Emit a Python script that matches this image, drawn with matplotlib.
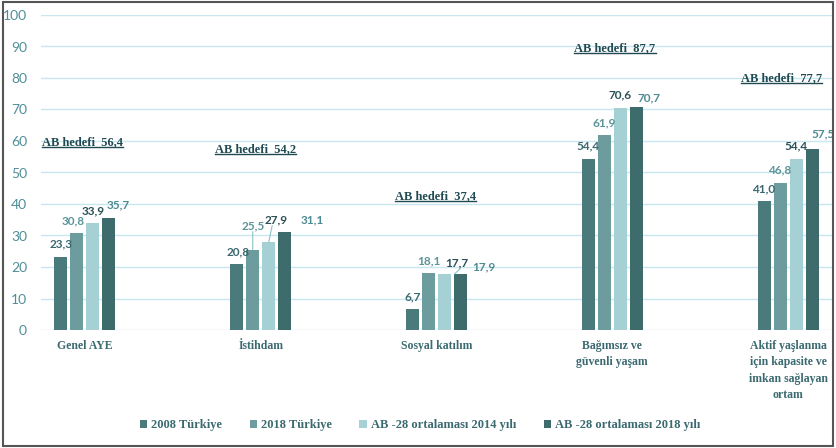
import matplotlib
matplotlib.use("Agg")
import matplotlib.pyplot as plt
import numpy as np
from matplotlib.lines import Line2D
from matplotlib.patches import Rectangle

categories = ["Genel AYE", "İstihdam", "Sosyal katılım",
              "Bağımsız ve\ngüvenli yaşam",
              "Aktif yaşlanma\niçin kapasite ve\nimkan sağlayan\nortam"]
series_names = ["2008 Türkiye", "2018 Türkiye", "AB -28 ortalaması 2014 yılı", "AB -28 ortalaması 2018 yılı"]
tr_2008 = [23.3, 20.8, 6.7, 54.4, 41.0]
tr_2018 = [30.8, 25.5, 18.1, 61.9, 46.8]
ab_2014 = [33.9, 27.9, 17.7, 70.6, 54.4]
ab_2018 = [35.7, 31.1, 17.9, 70.7, 57.5]
ab_target = [56.4, 54.2, 37.4, 87.7, 77.7]
yticks = [0, 10, 20, 30, 40, 50, 60, 70, 80, 90, 100]

series = [tr_2008, tr_2018, ab_2014, ab_2018]
bar_colors = ["#4b7a7c", "#6c9c9e", "#a5d0d4", "#3e6b6c"]
label_colors = ["#3b6870", "#5b9599", "#2b5056", "#4d8a92"]

W, H = 836, 448
fig = plt.figure(figsize=(W / 100, H / 100), dpi=100)
ax = fig.add_axes([41 / W, 1 - 330 / H, (832 - 41) / W, (330 - 15) / H])

x = np.arange(len(categories))
step = 16 / 175.75
bw = 13 / 175.75
offsets = (np.arange(4) - 1.5) * step

for i, (vals, c) in enumerate(zip(series, bar_colors)):
    ax.bar(x + offsets[i], vals, width=bw, color=c, label=series_names[i], zorder=3)

ax.set_xlim(-0.25, 4.25)
ax.set_ylim(0, 100)
ax.set_yticks(yticks)
ax.set_yticklabels([str(t) for t in yticks], fontsize=10, color="#4f8e99", family="Lato")
ax.tick_params(axis="y", length=0, pad=10)
ax.tick_params(axis="x", length=0, pad=7)
ax.set_xticks(x)
ax.set_xticklabels(categories, fontsize=8.5, family="Liberation Serif", weight="bold",
                   color="#3a6a70", va="top", linespacing=1.5)
ax.grid(axis="y", color="#c8e8f0", linewidth=1.0, zorder=0)
for s in ax.spines.values():
    s.set_visible(False)

# value label offsets in points: default per series, with exceptions (category, series)
default_off = [(0, 5), (0, 5), (0, 5), (8, 5)]
special = {(0, 1): (-3, 5), (0, 3): (7, 5.5),
           (1, 0): (1, 5), (1, 1): (0, 13), (1, 2): (5, 12), (1, 3): (20, 5),
           (2, 2): (9, 4), (2, 3): (17, 1),
           (3, 3): (9, 2.5), (4, 3): (8, 7)}
leaders = {(1, 1), (1, 2), (2, 2)}
for i, vals in enumerate(series):
    for j, v in enumerate(vals):
        dx, dy = special.get((j, i), default_off[i])
        xb = x[j] + offsets[i]
        label = f"{v:.1f}".replace(".", ",")
        ax.annotate(label, (xb, v), xytext=(dx, dy), textcoords="offset points",
                    ha="center", va="bottom", fontsize=8.5, family="Lato",
                    weight="bold", color=label_colors[i], zorder=5)
        if (j, i) in leaders:
            xt = xb + (offsets[3] - offsets[2]) * 0.6 if (j, i) == (2, 2) else xb
            ax.annotate("", (xt, v), xytext=(dx * 0.5, dy),
                        textcoords="offset points",
                        arrowprops=dict(arrowstyle="-", color="#8ac3c8", lw=0.8,
                                        shrinkA=0, shrinkB=0))

# AB hedefi annotations (underlined)
tgt_off = [(-2, 3), (-4, 3), (-1, 7), (2, 0), (-5, 1)]
tgt_texts = []
for j, t in enumerate(ab_target):
    txt = ax.annotate(f"AB hedefi  {t:.1f}".replace(".", ","), (x[j], t),
                      xytext=tgt_off[j], textcoords="offset points", ha="center", va="bottom",
                      fontsize=9, family="Liberation Serif", weight="bold",
                      color="#1f4a52", zorder=6)
    tgt_texts.append(txt)

leg = fig.legend(loc="center", bbox_to_anchor=(420 / W, 1 - 425 / H), ncol=4,
                 frameon=False, handlelength=0.6, handleheight=0.6, handletextpad=0.3,
                 columnspacing=2.2,
                 prop={"family": "Liberation Serif", "weight": "bold", "size": 9})
for t in leg.get_texts():
    t.set_color("#3a6a70")

fig.canvas.draw()
r = fig.canvas.get_renderer()
for txt in tgt_texts:
    bb = txt.get_window_extent(r)
    y = bb.y0 + 1
    fig.add_artist(Line2D([bb.x0 / W, bb.x1 / W], [y / H, y / H], color="#1f4a52", lw=1.0,
                          transform=fig.transFigure))

fig.add_artist(Rectangle((3 / W, 2 / H), (833 - 3) / W, (446 - 2) / H, fill=False,
                         edgecolor="#555555", lw=1.5, transform=fig.transFigure))

fig.savefig("out.png", dpi=100)
